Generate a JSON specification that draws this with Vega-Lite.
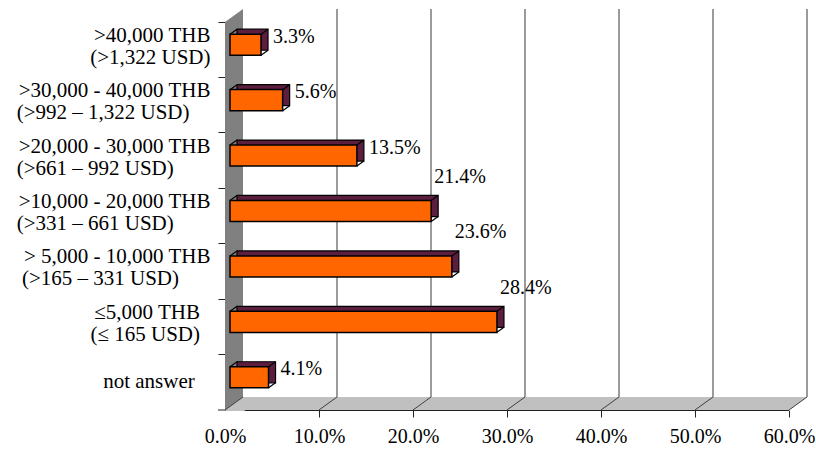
{
  "$schema": "https://vega.github.io/schema/vega-lite/v6.json",
  "width": 564,
  "height": 388,
  "autosize": {"type": "none"},
  "padding": {"left": 225, "top": 22, "right": 27, "bottom": 41},
  "background": "white",
  "config": {"view": {"stroke": null}, "font": "Liberation Serif"},
  "datasets": {
    "bars": [
      {"cat": ">40,000 THB|(>1,322 USD)", "value": 3.3, "label": "3.3%"},
      {"cat": ">30,000 - 40,000 THB|(>992 – 1,322 USD)\u00a0\u00a0\u00a0\u00a0\u200b", "value": 5.6, "label": "5.6%"},
      {"cat": ">20,000 - 30,000 THB|(>661 – 992 USD)\u00a0\u00a0\u00a0\u00a0\u00a0\u00a0\u00a0\u200b", "value": 13.5, "label": "13.5%"},
      {"cat": ">10,000 - 20,000 THB|(>331 – 661 USD)\u00a0\u00a0\u00a0\u00a0\u00a0\u00a0\u00a0\u200b", "value": 21.4, "label": "21.4%"},
      {"cat": "> 5,000 - 10,000 THB|(>165 – 331 USD)\u00a0\u00a0\u00a0\u00a0\u00a0\u00a0\u200b", "value": 23.6, "label": "23.6%"},
      {"cat": "≤5,000 THB\u00a0\u00a0\u200b|(≤ 165 USD)\u00a0\u00a0\u200b", "value": 28.4, "label": "28.4%"},
      {"cat": "not answer\u00a0\u00a0\u00a0\u200b", "value": 4.1, "label": "4.1%"}
    ],
    "ticks": [{"t": 0}, {"t": 10}, {"t": 20}, {"t": 30}, {"t": 40}, {"t": 50}, {"t": 60}],
    "one": [{"k": 1}]
  },
  "layer": [
    {
      "data": {"name": "bars"},
      "mark": {"type": "bar", "color": "#ff6600", "opacity": 0, "height": {"band": 0.38}},
      "encoding": {
        "x": {
          "field": "value", "type": "quantitative", "scale": {"domain": [0, 60], "nice": false},
          "axis": {
            "title": null, "grid": false, "values": [0, 10, 20, 30, 40, 50, 60],
            "labelExpr": "format(datum.value, '.1f') + '%'",
            "labelFont": "Liberation Serif", "labelFontSize": 20, "labelColor": "#000000",
            "labelFlush": false, "labelPadding": 9, "tickSize": 7, "tickColor": "#222222",
            "domainColor": "#222222", "labelOverlap": false
          }
        },
        "y": {
          "field": "cat", "type": "nominal", "sort": null, "scale": {"paddingInner": 0, "paddingOuter": 0},
          "axis": {
            "title": null, "grid": false, "bandPosition": 0,
            "labelExpr": "split(datum.label, '|')",
            "labelFont": "Liberation Serif", "labelFontSize": 21, "labelColor": "#000000",
            "labelAlign": "right", "labelBaseline": "middle", "labelLineHeight": 22,
            "labelLimit": 0, "labelPadding": 8,
            "labelOffset": {"condition": {"test": "indexof(datum.label, '|') >= 0", "value": -14}, "value": 0},
            "tickSize": 7, "tickColor": "#222222", "domainColor": "#222222", "labelOverlap": false
          }
        }
      }
    },
    {
      "data": {"name": "one"},
      "mark": {"type": "rect", "color": "#808080", "x2Offset": 18, "yOffset": -13},
      "encoding": {
        "x": {"datum": 0, "type": "quantitative"},
        "x2": {"datum": 0},
        "y": {"value": 0},
        "y2": {"value": {"expr": "height"}}
      }
    },
    {
      "data": {"name": "one"},
      "mark": {"type": "rule", "color": "white", "strokeWidth": 12, "strokeCap": "butt", "xOffset": -3.5, "x2Offset": 14.5, "yOffset": -4.9, "y2Offset": -17.9},
      "encoding": {
        "x": {"datum": 0, "type": "quantitative"},
        "x2": {"datum": 0},
        "y": {"value": 0},
        "y2": {"value": 0}
      }
    },
    {
      "data": {"name": "one"},
      "mark": {"type": "rect", "color": "#c0c0c0", "xOffset": 18, "x2Offset": 18, "yOffset": -13},
      "encoding": {
        "x": {"datum": 0, "type": "quantitative"},
        "x2": {"datum": 60},
        "y": {"value": {"expr": "height"}},
        "y2": {"value": {"expr": "height"}}
      }
    },
    {
      "data": {"name": "one"},
      "mark": {"type": "rule", "color": "#c0c0c0", "strokeWidth": 12, "strokeCap": "butt", "xOffset": 3.5, "x2Offset": 21.5, "yOffset": 4.9, "y2Offset": -8.1},
      "encoding": {
        "x": {"datum": 0, "type": "quantitative"},
        "x2": {"datum": 0},
        "y": {"value": {"expr": "height"}},
        "y2": {"value": {"expr": "height"}}
      }
    },
    {
      "data": {"name": "one"},
      "mark": {"type": "rule", "color": "white", "strokeWidth": 13, "strokeCap": "butt", "xOffset": -3, "x2Offset": 40, "yOffset": 7.5, "y2Offset": 7.5},
      "encoding": {
        "x": {"datum": 0, "type": "quantitative"},
        "x2": {"datum": 0},
        "y": {"value": {"expr": "height"}},
        "y2": {"value": {"expr": "height"}}
      }
    },
    {
      "data": {"name": "one"},
      "mark": {"type": "rule", "color": "white", "strokeWidth": 12, "strokeCap": "butt", "xOffset": 3.5, "x2Offset": 21.5, "yOffset": 4.9, "y2Offset": -8.1},
      "encoding": {
        "x": {"datum": 60, "type": "quantitative"},
        "x2": {"datum": 60},
        "y": {"value": {"expr": "height"}},
        "y2": {"value": {"expr": "height"}}
      }
    },
    {
      "data": {"name": "ticks"},
      "mark": {"type": "rule", "color": "#404040", "strokeWidth": 1, "x2Offset": 18, "y2Offset": -13},
      "encoding": {
        "x": {"field": "t", "type": "quantitative"},
        "x2": {"field": "t"},
        "y": {"value": {"expr": "height"}},
        "y2": {"value": {"expr": "height"}}
      }
    },
    {
      "data": {"name": "ticks"},
      "transform": [{"filter": "datum.t > 0"}],
      "mark": {"type": "rule", "color": "#7a7a7a", "strokeWidth": 1.5, "xOffset": 18, "yOffset": -13, "y2Offset": -13},
      "encoding": {
        "x": {"field": "t", "type": "quantitative"},
        "y": {"value": 0},
        "y2": {"value": {"expr": "height"}}
      }
    },
    {
      "data": {"name": "one"},
      "mark": {"type": "rule", "color": "#222222", "strokeWidth": 1, "xOffset": -7},
      "encoding": {
        "x": {"datum": 0, "type": "quantitative"},
        "x2": {"datum": 0},
        "y": {"value": {"expr": "height"}},
        "y2": {"value": {"expr": "height"}}
      }
    },
    {
      "data": {"name": "bars"},
      "mark": {"type": "bar", "color": "#5b1e3f", "stroke": "#000000", "strokeWidth": 1.2, "height": {"band": 0.38}, "xOffset": 12, "x2Offset": 12, "yOffset": -10, "y2Offset": -10},
      "encoding": {
        "x": {"field": "value", "type": "quantitative"},
        "y": {"field": "cat", "type": "nominal", "sort": null}
      }
    },
    {
      "data": {"name": "bars"},
      "mark": {"type": "bar", "color": "#ff6600", "stroke": "#000000", "strokeWidth": 1.5, "height": {"band": 0.38}, "xOffset": 5, "x2Offset": 5, "yOffset": -5, "y2Offset": -5},
      "encoding": {
        "x": {"field": "value", "type": "quantitative"},
        "y": {"field": "cat", "type": "nominal", "sort": null}
      }
    },
    {
      "data": {"name": "bars"},
      "mark": {"type": "rule", "color": "#000000", "strokeWidth": 1.2, "xOffset": 5, "x2Offset": 12, "yOffset": -15.5, "y2Offset": -20.5},
      "encoding": {
        "x": {"datum": 0, "type": "quantitative"},
        "x2": {"datum": 0},
        "y": {"field": "cat", "type": "nominal", "sort": null},
        "y2": {"field": "cat"}
      }
    },
    {
      "data": {"name": "bars"},
      "mark": {"type": "rule", "color": "#000000", "strokeWidth": 1.2, "xOffset": 5, "x2Offset": 12, "yOffset": -15.5, "y2Offset": -20.5},
      "encoding": {
        "x": {"field": "value", "type": "quantitative"},
        "x2": {"field": "value"},
        "y": {"field": "cat", "type": "nominal", "sort": null},
        "y2": {"field": "cat"}
      }
    },
    {
      "data": {"name": "bars"},
      "mark": {"type": "rule", "color": "#000000", "strokeWidth": 1.2, "xOffset": 5, "x2Offset": 12, "yOffset": 5.5, "y2Offset": 0.5},
      "encoding": {
        "x": {"field": "value", "type": "quantitative"},
        "x2": {"field": "value"},
        "y": {"field": "cat", "type": "nominal", "sort": null},
        "y2": {"field": "cat"}
      }
    },
    {
      "data": {"name": "bars"},
      "transform": [{"filter": "datum.value < 20"}],
      "mark": {"type": "text", "font": "Liberation Serif", "fontSize": 20, "color": "#000000", "align": "left", "baseline": "middle", "dx": 17, "dy": -13},
      "encoding": {
        "x": {"field": "value", "type": "quantitative"},
        "y": {"field": "cat", "type": "nominal", "sort": null},
        "text": {"field": "label"}
      }
    },
    {
      "data": {"name": "bars"},
      "transform": [{"filter": "datum.value >= 20"}],
      "mark": {"type": "text", "font": "Liberation Serif", "fontSize": 20, "color": "#000000", "align": "left", "baseline": "middle", "dx": 8, "dy": -39},
      "encoding": {
        "x": {"field": "value", "type": "quantitative"},
        "y": {"field": "cat", "type": "nominal", "sort": null},
        "text": {"field": "label"}
      }
    }
  ]
}
